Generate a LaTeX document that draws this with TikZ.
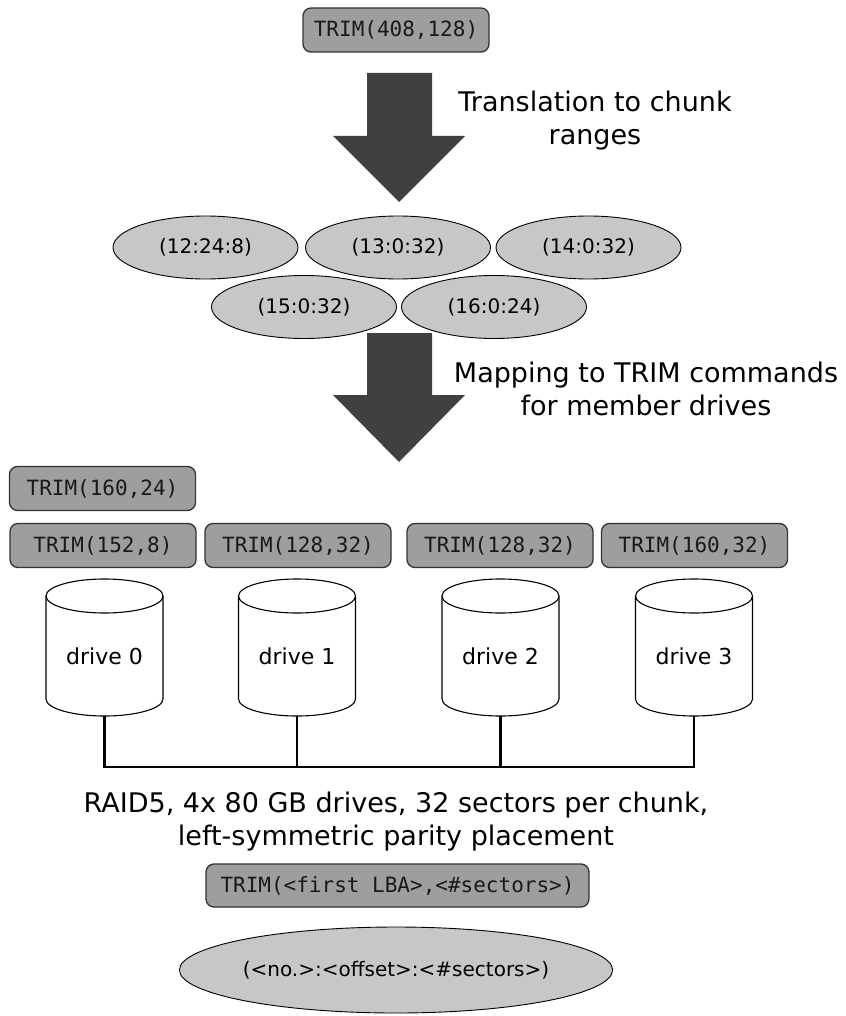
\documentclass[tikz,border=0pt]{standalone}
\usepackage{fontspec}
\setmainfont{DejaVu Sans}
\newfontfamily\monofont{DejaVu Sans Mono}
\usetikzlibrary{shapes.geometric}
\definecolor{boxgray}{HTML}{9E9E9E}
\definecolor{ellgray}{HTML}{C8C6C6}
\definecolor{arrowgray}{HTML}{404040}
\definecolor{edgegray}{HTML}{333333}
\begin{document}
\begin{tikzpicture}[x=1pt,y=-1pt,
  trimbox/.style={draw=edgegray, line width=1.3pt, fill=boxgray, rounded corners=8pt,
    minimum width=186pt, minimum height=44pt, inner sep=0pt,
    font=\monofont\fontsize{21}{25}\selectfont, text=black!90},
  chunk/.style={ellipse, draw=black, line width=0.9pt, fill=ellgray,
    minimum width=185pt, minimum height=63pt, inner sep=0pt,
    font=\fontsize{20}{24}\selectfont},
  caption/.style={align=center, font=\fontsize{27}{33}\selectfont},
  drivelabel/.style={font=\fontsize{22}{26}\selectfont, inner sep=0pt},
  bigarrow/.style={fill=arrowgray, draw=none},
  cyl/.style={draw=black, line width=1.1pt, fill=white},
  bus/.style={draw=black, line width=2.6pt}
]
\useasboundingbox (0,0) rectangle (845,1016);

% top command
\node[trimbox] (top) at (396,30) {TRIM(408,128)};

% first big arrow
\fill[bigarrow] (367,73) -- (432,73) -- (432,136) -- (465,136) -- (399,202) -- (333,136) -- (367,136) -- cycle;
\node[caption] (cap1) at (595,121) {Translation to chunk\\ranges};

% chunk ranges
\node[chunk] (c12) at (205.5,247.5) {(12:24:8)};
\node[chunk] (c13) at (398,247.5) {(13:0:32)};
\node[chunk] (c14) at (588.5,247.5) {(14:0:32)};
\node[chunk] (c15) at (304,307) {(15:0:32)};
\node[chunk] (c16) at (494,307) {(16:0:24)};

% second big arrow
\fill[bigarrow] (367,333) -- (432,333) -- (432,395) -- (465,395) -- (399,462) -- (333,395) -- (367,395) -- cycle;
\node[caption] (cap2) at (646,389) {Mapping to TRIM commands\\for member drives};

% member TRIM commands
\node[trimbox] (t0b) at (102.5,488.5) {TRIM(160,24)};
\node[trimbox] (t0) at (103,545.5) {TRIM(152,8)};
\node[trimbox] (t1) at (298,545.5) {TRIM(128,32)};
\node[trimbox] (t2) at (500,545.5) {TRIM(128,32)};
\node[trimbox] (t3) at (694.5,545.5) {TRIM(160,32)};

% drives
\foreach \cx/\n in {104.5/0, 297/1, 500.5/2, 694/3} {
  \draw[cyl] (\cx-58.5,596) -- (\cx-58.5,699)
     arc[start angle=180, end angle=360, x radius=58.5pt, y radius=17pt]
     -- (\cx+58.5,596);
  \draw[cyl] (\cx,596) ellipse [x radius=58.5pt, y radius=17pt];
  \node[drivelabel] (d\n) at (\cx,656) {drive \n};
  \coordinate (b\n) at (\cx,716);
  \coordinate (k\n) at (\cx,767);
}

% bus
\draw[bus] (b0) -- (k0) -- (k3) -- (b3);
\draw[bus] (b1) -- (k1);
\draw[bus] (b2) -- (k2);

\node[caption] (cap3) at (396,822) {RAID5, 4x 80 GB drives, 32 sectors per chunk,\\left-symmetric parity placement};

% legend
\node[trimbox, minimum width=383pt, minimum height=43pt] (legbox) at (397.5,885.5) {TRIM(<first LBA>,<\#sectors>)};
\node[chunk, minimum width=368pt, minimum height=86pt] (legell) at (396,970) {(<no.>:<offset>:<\#sectors>)};
\end{tikzpicture}
\end{document}
